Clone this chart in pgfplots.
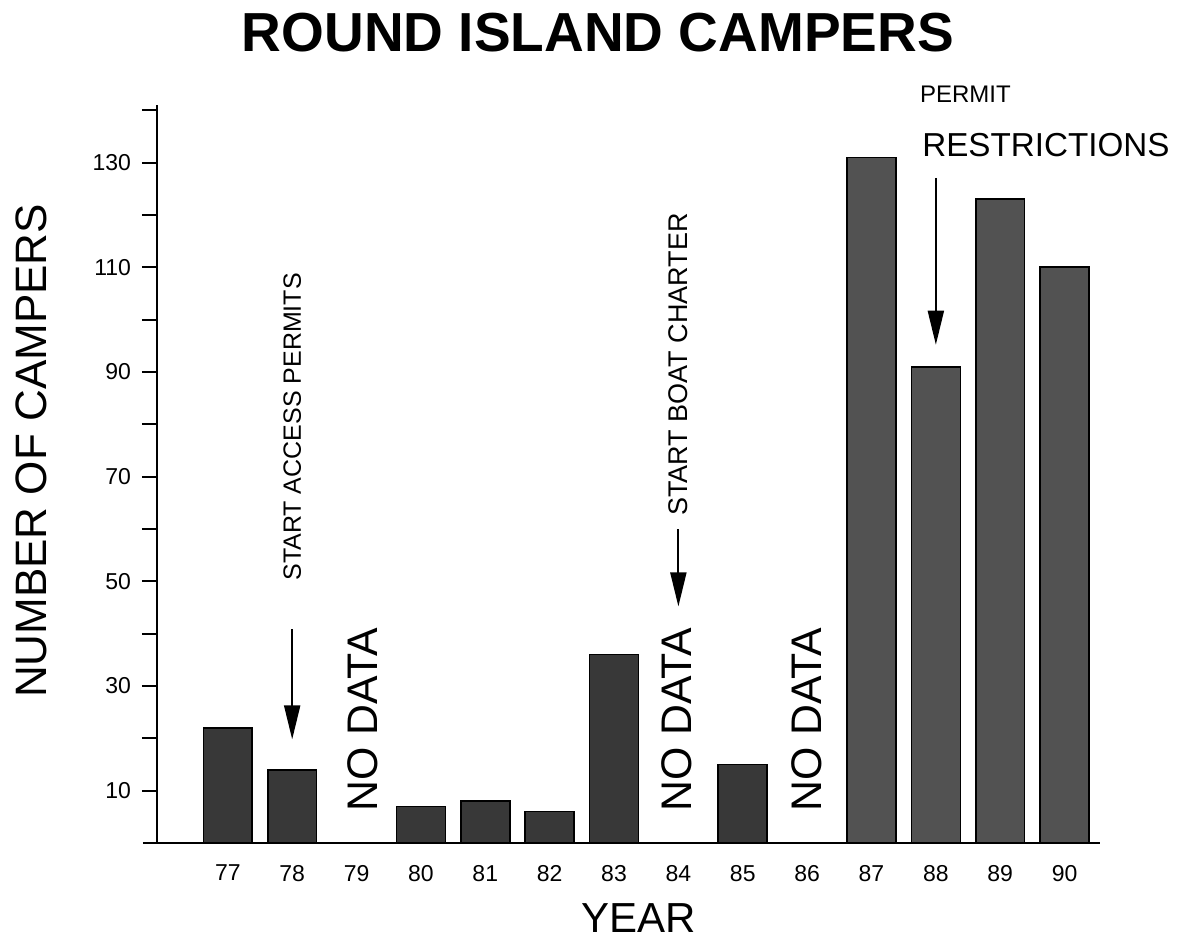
\documentclass[border=0pt]{standalone}
\usepackage{fontspec}
\setmainfont{Liberation Sans}
\usepackage{pgfplots}
\pgfplotsset{compat=1.18}
\usetikzlibrary{arrows.meta}
\begin{document}
\begin{tikzpicture}
\path[use as bounding box] (-78.5pt,-48pt) rectangle (510.5pt,421.5pt);
\begin{axis}[
  scale only axis, width=471.5pt, height=369pt,
  xmin=75.9, xmax=90.55, ymin=0, ymax=141,
  axis x line=bottom, axis y line=left,
  axis line style={-, line width=1.2pt, black},
  x axis line style={shorten <=-7pt},
  xtick={77,...,90},
  xticklabels={77,78,79,80,81,82,83,84,85,86,87,88,89,90},
  xtick style={draw=none},
  ytick={10,20,...,140},
  yticklabels={10,,30,,50,,70,,90,,110,,130,},
  tick align=outside,
  major tick length=7.5pt,
  ytick style={line width=1pt, black},
  tick label style={font=\fontsize{11.5}{13}\selectfont},
  yticklabel style={xshift=-2pt},
  clip=false,
]
\addplot[ybar, bar shift=0pt, bar width=0.76, fill=black!78, draw=black, line width=0.8pt]
  coordinates {(77,22) (78,14) (80,7) (81,8) (82,6) (83,36) (85,15)};
\addplot[ybar, bar shift=0pt, bar width=0.76, fill=black!68, draw=black, line width=0.8pt]
  coordinates {(87,131) (88,91) (89,123) (90,110)};

% title and axis labels
\node[font=\fontsize{27.5}{32}\selectfont\bfseries] at (axis cs:82.75,154.9) {ROUND ISLAND CAMPERS};
\node[rotate=90, font=\fontsize{22}{26}\selectfont] at (axis cs:73.95,74.9) {NUMBER OF CAMPERS};
\node[font=\fontsize{21}{25}\selectfont] at (axis cs:83.39,-14.3) {YEAR};

% annotations
\node[rotate=90, font=\fontsize{12.5}{14}\selectfont] at (axis cs:78.0,79.5) {START ACCESS PERMITS};
\draw[line width=1pt, -{Triangle[length=17pt,width=8pt]}] (axis cs:78.0,40.8) -- (axis cs:78.0,19.8);
\node[rotate=90, font=\fontsize{21.4}{25}\selectfont] at (axis cs:79.09,23.6) {NO DATA};
\node[rotate=90, font=\fontsize{21.4}{25}\selectfont] at (axis cs:83.98,23.6) {NO DATA};
\node[rotate=90, font=\fontsize{21.4}{25}\selectfont] at (axis cs:85.99,23.6) {NO DATA};
\node[rotate=90, font=\fontsize{13.5}{16}\selectfont] at (axis cs:84.0,91.4) {START BOAT CHARTER};
\draw[line width=1pt, -{Triangle[length=17pt,width=8pt]}] (axis cs:84.0,59.9) -- (axis cs:84.0,45.2);
\node[font=\fontsize{12}{14}\selectfont] at (axis cs:88.46,143.0) {PERMIT};
\node[font=\fontsize{16.6}{19}\selectfont] at (axis cs:89.71,133.4) {RESTRICTIONS};
\draw[line width=1pt, -{Triangle[length=17pt,width=8pt]}] (axis cs:88.0,127.1) -- (axis cs:88.0,95.2);
\end{axis}
\end{tikzpicture}
\end{document}
